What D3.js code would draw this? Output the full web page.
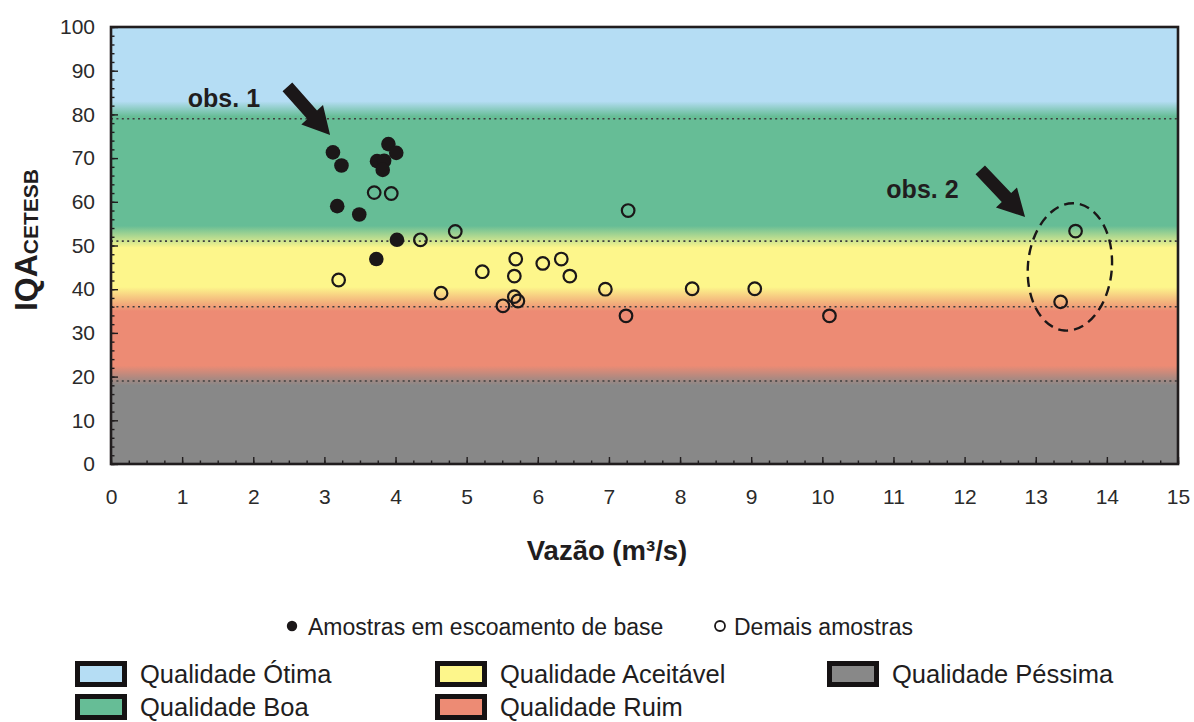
<!DOCTYPE html>
<html>
<head>
<meta charset="utf-8">
<script src="https://cdn.jsdelivr.net/npm/d3@7"></script>
<style>
  body { margin: 0; background: #fff; }
  svg { display: block; font-family: "Liberation Sans", Arial, Helvetica, sans-serif; }
</style>
</head>
<body>
<svg id="chart" width="1194" height="722"></svg>
<script>
// Amostras em escoamento de base (símbolo cheio): vazão (m³/s) e IQA
const baseFlow = [3.12, 3.24, 3.90, 4.01, 3.74, 3.84, 3.82, 3.18, 3.49, 4.02, 3.73];
const baseIQA  = [71.3, 68.3, 73.2, 71.2, 69.3, 69.4, 67.3, 59.0, 57.1, 51.3, 46.9];

// Demais amostras (símbolo vazado)
const otherFlow = [3.70, 3.94, 4.35, 4.84, 3.20, 4.64, 5.22, 5.69, 5.67, 5.67, 5.72, 5.51,
                   6.07, 6.33, 6.45, 6.95, 7.27, 7.24, 8.17, 9.05, 10.10, 13.56, 13.35];
const otherIQA  = [62.1, 61.9, 51.3, 53.2, 42.1, 39.1, 44.0, 46.9, 43.0, 38.3, 37.3, 36.2,
                   45.9, 46.9, 43.0, 40.0, 58.0, 33.9, 40.1, 40.1, 33.9, 53.3, 37.1];

// Eixos
const xTickValues = d3.range(0, 16, 1);
const yTickValues = d3.range(0, 101, 10);

// Faixas de qualidade do IQA CETESB
const classLimits = [79, 51, 36, 19];
const classNames  = ["Qualidade Ótima", "Qualidade Boa", "Qualidade Aceitável", "Qualidade Ruim", "Qualidade Péssima"];
const classColors = ["#b5ddf4", "#66bd96", "#fdf68b", "#ed8b74", "#888888"];

const sampleNames = ["Amostras em escoamento de base", "Demais amostras"];
const obsLabels   = ["obs. 1", "obs. 2"];

// ---------------------------------------------------------------
const svg = d3.select("#chart");
const x = d3.scaleLinear().domain([0, 15]).range([111, 1178]);
const y = d3.scaleLinear().domain([0, 100]).range([464, 27]);
const ink = "#211d1e";

// Fundo em degradê: cada faixa com cor sólida e transição suave logo acima do limite
const blendTop = [83, 54.5, 40.5, 22.5];
const blendBot = [79.5, 49.5, 35, 18];
const defs = svg.append("defs");
const grad = defs.append("linearGradient")
  .attr("id", "bands").attr("gradientUnits", "userSpaceOnUse")
  .attr("x1", 0).attr("x2", 0).attr("y1", y(100)).attr("y2", y(0));
const stops = [[100, classColors[0]]];
classLimits.forEach((_, i) => {
  stops.push([blendTop[i], classColors[i]]);
  stops.push([blendBot[i], classColors[i + 1]]);
});
stops.push([0, classColors[4]]);
grad.selectAll("stop").data(stops).join("stop")
  .attr("offset", d => (100 - d[0]) / 100)
  .attr("stop-color", d => d[1]);

svg.append("rect")
  .attr("x", x(0)).attr("y", y(100))
  .attr("width", x(15) - x(0)).attr("height", y(0) - y(100))
  .attr("fill", "url(#bands)");

// Limites das classes (pontilhado)
svg.append("g").selectAll("line").data(classLimits).join("line")
  .attr("x1", x(0)).attr("x2", x(15))
  .attr("y1", d => y(d)).attr("y2", d => y(d))
  .attr("stroke", "#3e3e3e").attr("stroke-width", 1.6)
  .attr("stroke-dasharray", "2,3.4");

// Eixo Y: marcas internas, menores a cada 2
const yMinor = svg.append("g").attr("transform", `translate(${x(0)},0)`)
  .call(d3.axisLeft(y).tickValues(d3.range(0, 101, 2)).tickSize(-3.5).tickFormat(""));
const yMajor = svg.append("g").attr("transform", `translate(${x(0)},0)`)
  .call(d3.axisLeft(y).tickValues(yTickValues).tickSize(-7).tickPadding(16));
// Eixo X: marcas internas, menores a cada 0,25
const xMinor = svg.append("g").attr("transform", `translate(0,${y(0)})`)
  .call(d3.axisBottom(x).tickValues(d3.range(0, 15.01, 0.25)).tickSize(-3.5).tickFormat(""));
const xMajor = svg.append("g").attr("transform", `translate(0,${y(0)})`)
  .call(d3.axisBottom(x).tickValues(xTickValues).tickSize(-7).tickPadding(25));

[yMinor, yMajor, xMinor, xMajor].forEach(g => {
  g.select(".domain").remove();
  g.selectAll(".tick line").attr("stroke", ink).attr("stroke-width", 1.4);
  g.selectAll("text").attr("font-size", 21).attr("fill", "#2a2a2a")
    .attr("font-family", "'Liberation Sans', Arial, sans-serif");
});

// Moldura
svg.append("rect")
  .attr("x", x(0)).attr("y", y(100))
  .attr("width", x(15) - x(0)).attr("height", y(0) - y(100))
  .attr("fill", "none").attr("stroke", ink).attr("stroke-width", 2.6);

// Pontos
svg.append("g").selectAll("circle").data(baseFlow.map((v, i) => [v, baseIQA[i]])).join("circle")
  .attr("cx", d => x(d[0])).attr("cy", d => y(d[1])).attr("r", 7.3)
  .attr("fill", "#1b1718");
svg.append("g").selectAll("circle").data(otherFlow.map((v, i) => [v, otherIQA[i]])).join("circle")
  .attr("cx", d => x(d[0])).attr("cy", d => y(d[1])).attr("r", 6.3)
  .attr("fill", "none").attr("stroke", "#1b1718").attr("stroke-width", 2.2);

// Setas de observação
function arrowPath(x0, y0, x1, y1) {
  const dx = x1 - x0, dy = y1 - y0, L = Math.hypot(dx, dy);
  const ux = dx / L, uy = dy / L, nx = -uy, ny = ux;
  const sw = 6.5, hw = 14.5, hl = 27;
  const bx = x1 - ux * hl, by = y1 - uy * hl;
  const p = [
    [x0 + nx * sw, y0 + ny * sw], [bx + nx * sw, by + ny * sw], [bx + nx * hw, by + ny * hw],
    [x1, y1], [bx - nx * hw, by - ny * hw], [bx - nx * sw, by - ny * sw], [x0 - nx * sw, y0 - ny * sw]
  ];
  return "M" + p.map(q => q.join(",")).join("L") + "Z";
}
const arrows = [
  { from: [2.48, 86.3], to: [3.08, 75.3] },
  { from: [12.22, 67.3], to: [12.85, 56.5] }
];
svg.append("g").selectAll("path").data(arrows).join("path")
  .attr("d", a => arrowPath(x(a.from[0]), y(a.from[1]), x(a.to[0]), y(a.to[1])))
  .attr("fill", "#1b1718");

const obsPos = [[1.08, 81.6], [10.9, 60.8]];
svg.append("g").selectAll("text").data(obsLabels).join("text")
  .attr("x", (d, i) => x(obsPos[i][0])).attr("y", (d, i) => y(obsPos[i][1]))
  .attr("font-size", 25).attr("font-weight", "bold").attr("fill", ink)
  .text(d => d);

// Elipse destacando a obs. 2
const ell = { cx: 13.48, cy: 45.1, rx: 0.59, ry: 14.6 };
svg.append("ellipse")
  .attr("cx", x(ell.cx)).attr("cy", y(ell.cy))
  .attr("rx", x(ell.rx) - x(0)).attr("ry", y(0) - y(ell.ry))
  .attr("transform", `rotate(5,${x(ell.cx)},${y(ell.cy)})`)
  .attr("fill", "none").attr("stroke", "#1b1718").attr("stroke-width", 2.4)
  .attr("stroke-dasharray", "10,6");

// Títulos dos eixos
svg.append("text")
  .attr("x", 607).attr("y", 560)
  .attr("text-anchor", "middle").attr("font-size", 27.5).attr("font-weight", "bold").attr("fill", ink)
  .text("Vazão (m³/s)");

const yTitle = svg.append("text")
  .attr("transform", "translate(37,240) rotate(-90)")
  .attr("text-anchor", "middle").attr("font-weight", "bold").attr("fill", ink);
yTitle.append("tspan").attr("font-size", 32).text("IQA");
yTitle.append("tspan").attr("font-size", 21).attr("dy", 1).text("CETESB");

// Legenda dos símbolos
const lg = svg.append("g");
lg.append("circle").attr("cx", 292).attr("cy", 626).attr("r", 5.2).attr("fill", "#1b1718");
lg.append("text").attr("x", 308).attr("y", 635).attr("font-size", 23).attr("fill", ink).text(sampleNames[0]);
lg.append("circle").attr("cx", 720).attr("cy", 626).attr("r", 5).attr("fill", "none")
  .attr("stroke", "#1b1718").attr("stroke-width", 1.8);
lg.append("text").attr("x", 734).attr("y", 635).attr("font-size", 23).attr("fill", ink).text(sampleNames[1]);

// Legenda das classes
const colX = [75, 435, 827], rowY = [661, 694];
const slots = [[0, 0], [0, 1], [1, 0], [1, 1], [2, 0]]; // Ótima, Boa, Aceitável, Ruim, Péssima
const order = [0, 1, 2, 3, 4];
const item = svg.append("g").selectAll("g").data(order).join("g")
  .attr("transform", d => `translate(${colX[slots[d][0]]},${rowY[slots[d][1]]})`);
item.append("rect")
  .attr("x", 2.5).attr("y", 2.5).attr("width", 47).attr("height", 21)
  .attr("fill", d => classColors[d]).attr("stroke", "#151213").attr("stroke-width", 5);
item.append("text")
  .attr("x", 65).attr("y", 22).attr("font-size", 25.5).attr("fill", ink)
  .text(d => classNames[d]);
</script>
</body>
</html>
